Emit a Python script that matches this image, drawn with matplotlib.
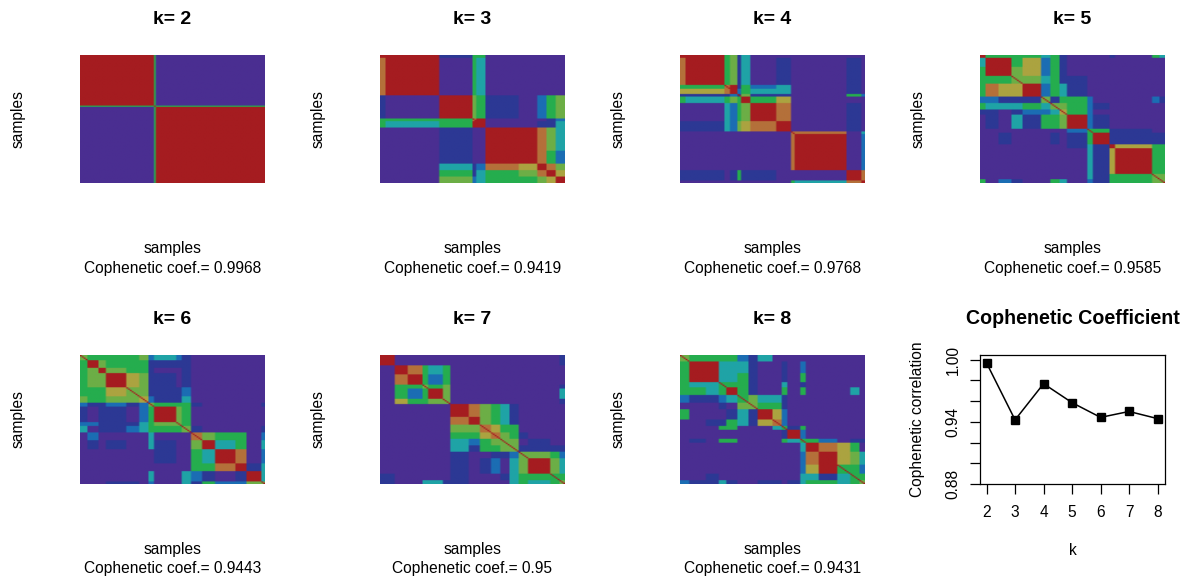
import numpy as np
import matplotlib
matplotlib.use("Agg")
import matplotlib.pyplot as plt
from matplotlib.colors import ListedColormap

plt.rcParams['font.family'] = ['Liberation Sans', 'DejaVu Sans']

k_values = [2, 3, 4, 5, 6, 7, 8]
coph = [0.9968, 0.9419, 0.9768, 0.9585, 0.9443, 0.95, 0.9431]
coph_labels = ['0.9968', '0.9419', '0.9768', '0.9585', '0.9443', '0.95', '0.9431']
y_ticks = [0.88, 0.90, 0.92, 0.94, 0.96, 0.98, 1.00]
y_tick_labels = ['0.88', '', '', '0.94', '', '', '1.00']

# consensus level colours, low to high
level_colors = ['#4A2E91', '#2C3894', '#1B6DB3', '#1FA3A6', '#25AD4E',
                '#6CAE46', '#ABA340', '#B4703A', '#A51C20']

# each consensus matrix: sample-group boundaries and levels between groups
breaks_2 = [0, 40, 41, 100]
levels_2 = ["8 4 0",
            "4 4 4",
            "0 4 8"]

breaks_3 = [0, 3, 32, 50, 52, 57, 75, 85, 90, 95, 100]
levels_3 = ["8 8 1 4 4 0 0 0 0 0",
            "7 8 0 4 3 0 0 0 0 0",
            "1 0 8 5 4 1 0 2 4 5",
            "4 4 4 7 8 0 0 0 1 2",
            "4 3 4 8 8 0 0 1 1 3",
            "0 0 1 0 0 8 8 7 5 3",
            "0 0 1 0 0 8 8 7 4 2",
            "0 0 3 1 2 7 6 8 7 5",
            "0 0 4 1 3 4 5 7 8 6",
            "0 0 5 2 3 4 4 5 6 8"]

breaks_4 = [0, 3, 24, 27, 31, 33, 38, 52, 60, 62, 90, 98, 100]
levels_4 = ["8 8 4 5 1 3 0 0 0 0 0 0",
            "7 8 4 5 1 3 0 1 0 0 1 0",
            "4 4 7 8 1 4 2 3 0 0 1 0",
            "6 6 7 8 2 4 3 3 0 0 1 0",
            "1 1 1 2 1 5 1 1 0 0 4 2",
            "4 3 4 5 4 8 4 6 0 0 0 0",
            "0 0 3 2 4 5 8 7 0 0 1 0",
            "1 1 3 2 5 6 7 8 0 0 1 0",
            "0 0 0 0 0 0 0 0 7 7 0 3",
            "0 0 0 0 0 0 0 0 7 8 0 2",
            "1 1 0 1 4 1 1 0 0 0 8 7",
            "0 0 0 0 0 0 0 0 4 3 7 8"]

breaks_5 = [0, 3, 10, 17, 23, 33, 38, 43, 47, 58, 61, 70, 73, 82, 93, 97, 100]
levels_5 = ["8 4 4 4 4 3 4 1 0 0 0 1 0 0 4 3",
            "3 8 8 4 6 2 4 1 0 0 0 0 0 0 0 0",
            "4 8 8 5 6 2 4 1 0 0 0 0 0 0 0 0",
            "4 4 4 5 5 3 4 1 1 0 0 0 0 0 0 0",
            "4 7 6 6 8 2 4 3 1 0 0 0 0 0 0 0",
            "2 2 1 1 1 5 1 4 4 2 0 0 0 0 2 1",
            "4 3 3 3 4 3 5 5 4 2 1 0 0 0 0 0",
            "1 1 0 1 2 2 3 6 4 2 0 0 0 0 0 0",
            "0 1 0 3 1 4 4 5 8 2 1 0 0 0 0 0",
            "0 0 0 0 0 0 0 0 2 4 4 1 1 1 0 0",
            "0 0 1 0 0 0 1 0 1 4 8 1 1 1 1 1",
            "0 0 0 0 0 0 0 0 1 3 1 8 6 6 4 4",
            "0 0 0 0 0 0 0 0 0 3 1 6 8 8 4 4",
            "0 0 0 0 0 0 0 0 0 3 1 6 8 8 4 4",
            "0 0 0 0 0 0 0 0 0 3 1 4 4 4 5 5",
            "4 0 2 1 0 0 4 3 0 2 1 4 4 4 5 5"]

breaks_6 = [0, 4, 10, 14, 25, 32, 37, 40, 52, 55, 60, 66, 73, 84, 90, 98, 100]
levels_6 = ["5 4 4 4 4 5 2 3 2 1 0 0 0 0 0 0",
            "4 8 5 4 4 4 1 1 1 1 0 0 0 0 0 0",
            "4 5 8 5 4 4 1 0 0 1 0 0 0 0 0 0",
            "4 5 5 8 6 5 1 1 0 1 0 0 0 0 0 0",
            "4 4 4 6 5 5 1 1 1 2 0 0 0 0 0 0",
            "5 4 4 5 5 6 2 1 1 3 0 0 0 0 0 0",
            "2 1 1 2 1 2 5 4 4 4 1 0 0 0 0 1",
            "1 0 1 1 0 2 4 8 5 4 0 0 0 0 0 0",
            "2 2 1 1 1 3 4 5 5 4 0 0 0 0 0 0",
            "3 0 1 1 2 3 4 4 4 5 1 0 0 0 0 1",
            "0 2 0 0 0 0 3 0 0 0 7 5 4 4 0 2",
            "0 1 0 1 0 0 3 1 0 0 5 8 3 4 0 3",
            "0 0 0 0 0 0 0 1 0 0 4 3 8 7 0 2",
            "0 0 0 0 0 0 0 0 0 0 4 4 7 8 1 3",
            "0 0 0 0 0 0 3 0 0 3 2 1 0 1 8 3",
            "0 0 0 1 1 0 2 0 0 3 1 4 2 2 5 5"]

breaks_7 = [0, 8, 15, 23, 26, 34, 38, 48, 54, 60, 65, 70, 75, 80, 92, 97, 100]
levels_7 = ["8 0 0 0 0 0 0 0 0 0 0 0 0 0 0 1",
            "0 8 7 4 3 4 0 0 0 0 0 0 0 0 0 0",
            "0 7 8 4 2 4 0 0 0 0 0 0 0 0 0 0",
            "0 4 4 5 4 5 0 0 0 0 0 0 0 0 0 1",
            "0 4 2 4 8 5 0 0 0 0 0 0 0 0 0 3",
            "0 6 4 4 5 5 0 0 0 0 0 0 0 0 0 1",
            "0 0 0 0 0 0 8 7 5 4 3 1 0 0 0 0",
            "0 0 0 0 0 0 7 8 5 4 3 1 0 0 0 0",
            "0 0 0 0 0 0 5 5 7 6 4 4 0 0 0 0",
            "0 0 0 0 0 0 4 4 6 7 5 4 1 0 0 0",
            "0 0 0 0 0 0 3 2 4 5 5 5 0 1 0 0",
            "0 0 0 0 0 0 3 1 4 4 5 5 1 1 1 1",
            "0 0 0 0 0 0 1 0 0 1 1 2 5 5 4 2",
            "0 0 0 0 0 0 1 0 1 2 0 3 5 8 5 3",
            "1 0 0 0 0 0 1 0 0 0 1 3 4 4 4 4",
            "1 0 0 3 3 1 1 0 0 0 0 3 4 3 4 5"]

breaks_8 = [0, 5, 14, 21, 25, 31, 37, 42, 50, 55, 58, 65, 68, 75, 85, 92, 97, 100]
levels_8 = ["5 4 4 4 4 2 1 3 0 0 0 0 0 0 0 0 0",
            "4 8 8 3 3 3 1 0 0 1 0 2 0 0 0 0 0",
            "4 8 8 3 3 4 1 0 0 1 0 4 0 0 0 0 0",
            "4 3 3 4 4 4 1 0 0 3 0 1 0 0 0 0 0",
            "4 4 3 4 8 4 1 0 0 4 0 4 0 0 0 3 0",
            "2 1 1 2 3 4 5 3 3 1 0 0 0 0 0 0 0",
            "0 0 0 1 0 5 5 4 4 1 0 0 0 0 0 0 0",
            "4 0 0 0 1 3 1 8 6 2 0 0 0 0 0 0 0",
            "0 0 1 1 4 3 1 6 7 2 0 0 0 0 0 0 0",
            "0 0 0 4 4 0 0 0 3 4 1 4 0 0 0 0 0",
            "0 0 0 0 0 0 0 0 0 1 8 2 0 0 0 0 0",
            "0 1 0 4 4 0 0 0 0 4 3 4 4 2 0 1 1",
            "0 0 0 0 0 0 0 0 0 0 0 3 8 7 6 4 0",
            "0 0 0 0 0 0 0 0 0 0 0 2 7 8 6 5 3",
            "0 0 0 0 0 0 0 0 0 0 0 2 6 8 4 4 2",
            "0 0 1 0 0 0 0 0 0 0 0 3 3 1 3 4 4",
            "2 1 1 3 1 0 0 1 1 0 1 3 4 4 3 4 5"]

panels = [(breaks_2, levels_2), (breaks_3, levels_3), (breaks_4, levels_4),
          (breaks_5, levels_5), (breaks_6, levels_6), (breaks_7, levels_7),
          (breaks_8, levels_8)]
top_level = len(level_colors) - 1


def consensus(breaks, levels):
    sizes = np.diff(breaks)
    m = np.array([[int(c) for c in row.split()] for row in levels])
    m = np.repeat(np.repeat(m, sizes, axis=0), sizes, axis=1)
    # every sample always clusters with itself
    np.fill_diagonal(m, top_level)
    return m


W, H = 1191, 581
FS = 11.2
fig = plt.figure(figsize=(W / 100, H / 100), dpi=100, facecolor='white')
cmap = ListedColormap(level_colors)


def panel_axes(col, row):
    left = 80 + 300 * col
    top = 54.5 + 300.5 * row
    return fig.add_axes([left / W, 1 - (top + 129) / H, 185 / W, 129 / H])


for i, (k, (br, lv)) in enumerate(zip(k_values, panels)):
    ax = panel_axes(i % 4, i // 4)
    ax.imshow(consensus(br, lv), cmap=cmap, vmin=-0.5, vmax=8.5, aspect='auto',
              interpolation='bilinear', interpolation_stage='rgba')
    ax.set_xticks([])
    ax.set_yticks([])
    for s in ax.spines.values():
        s.set_visible(False)
    ax.set_title(f'k= {k}', fontsize=14, fontweight='bold', pad=22)
    ax.set_ylabel('samples', fontsize=FS)
    ax.yaxis.set_label_coords(-54 / 185, 0.5)
    ax.set_xlabel(f'samples\nCophenetic coef.= {coph_labels[i]}', fontsize=FS,
                  linespacing=1.35, va='top')
    ax.xaxis.set_label_coords(0.5, -58 / 129)

ax = panel_axes(3, 1)
ax.plot(k_values, coph, color='black', lw=1.1, marker='s', ms=6.2)
ax.set_xlim(1.77, 8.26)
ax.set_ylim(0.88, 1.0045)
ax.set_xticks(k_values)
ax.set_yticks(y_ticks)
ax.set_yticklabels(y_tick_labels, rotation=90, va='center', fontsize=FS)
ax.tick_params(axis='x', length=7, width=0.9, pad=8, labelsize=FS)
ax.tick_params(axis='y', length=7, width=0.9, pad=7)
for s in ax.spines.values():
    s.set_linewidth(0.9)
ax.set_title('Cophenetic Coefficient', fontsize=14.1, fontweight='bold', pad=22)
ax.set_xlabel('k', fontsize=FS)
ax.xaxis.set_label_coords(0.5, -59 / 129)
ax.set_ylabel('Cophenetic correlation', fontsize=FS)
ax.yaxis.set_label_coords(-55 / 185, 0.5)

fig.savefig('out.png', dpi=100)
